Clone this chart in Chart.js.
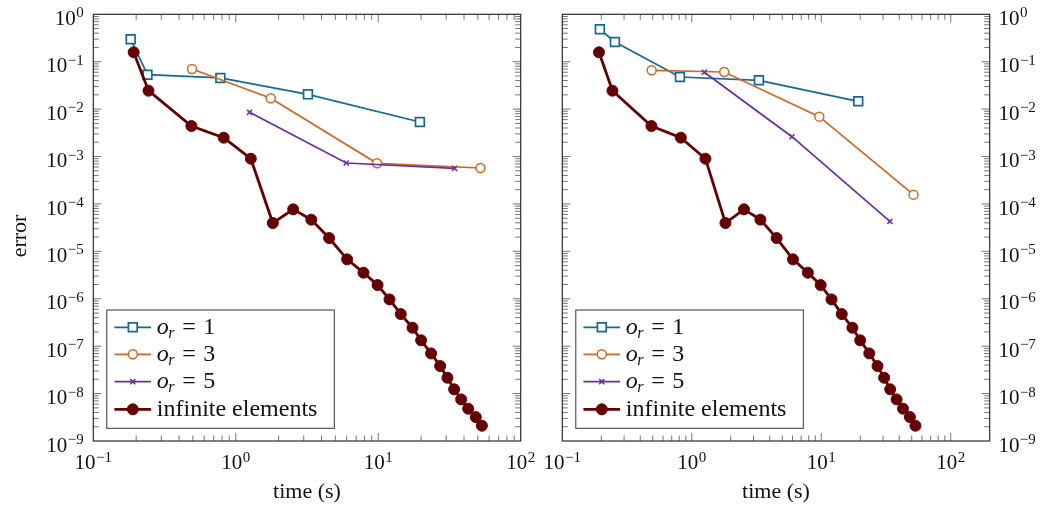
<!DOCTYPE html>
<html>
<head>
<meta charset="utf-8">
<script src="https://cdn.jsdelivr.net/npm/chart.js@4.4.0/dist/chart.umd.min.js"></script>
<style>
  html, body { margin: 0; padding: 0; background: #fff; }
  #wrap { position: relative; width: 1047px; height: 511px; overflow: hidden; }
  #wrap canvas { position: absolute; top: 0; }
  #leftChart { left: 0; }
  #rightChart { left: 525px; }
</style>
</head>
<body>
<div id="wrap">
  <canvas id="leftChart" width="560" height="511"></canvas>
  <canvas id="rightChart" width="522" height="511"></canvas>
</div>
<script>
// tick labels (powers of ten)
const xTickExps = [-1, 0, 1, 2];
const yTickExps = [0, -1, -2, -3, -4, -5, -6, -7, -8, -9];

// infinite elements - same run in both panels
const infTime = [0.192, 0.244, 0.488, 0.823, 1.275, 1.82, 2.53, 3.39, 4.52, 6.05, 7.88, 9.89,
                 12.0, 14.4, 17.4, 20.0, 23.5, 27.2, 30.6, 34.1, 38.2, 42.8, 48.4, 53.4];
const infError = [0.158, 0.0245, 0.0044, 0.0025, 0.0009, 3.96e-5, 7.7e-5, 4.66e-5, 1.91e-5,
                  6.78e-6, 3.55e-6, 1.95e-6, 9.7e-7, 4.76e-7, 2.45e-7, 1.33e-7, 7.05e-8,
                  3.81e-8, 2.16e-8, 1.23e-8, 7.55e-9, 4.8e-9, 3.2e-9, 2.1e-9];

// left panel
const leftO1Time = [0.183, 0.24, 0.78, 3.21, 19.6];
const leftO1Error = [0.297, 0.0533, 0.0454, 0.0205, 0.00535];
const leftO3Time = [0.493, 1.76, 9.8, 52.2];
const leftO3Error = [0.0703, 0.0169, 0.00072, 0.000573];
const leftO5Time = [1.25, 5.96, 34.3];
const leftO5Error = [0.00857, 0.00073, 0.000564];

// right panel
const rightO1Time = [0.195, 0.255, 0.81, 3.30, 19.3];
const rightO1Error = [0.483, 0.261, 0.0476, 0.0405, 0.0146];
const rightO3Time = [0.49, 1.78, 9.66, 51.6];
const rightO3Error = [0.0659, 0.0607, 0.00694, 0.000157];
const rightO5Time = [1.25, 5.94, 33.9];
const rightO5Error = [0.0598, 0.00262, 4.3e-5];

const orders = ['1', '3', '5'];
const infLabel = 'infinite elements';
const xTitle = 'time (s)';
const yTitle = 'error';

const BLUE = '#10699c', ORANGE = '#d8651f', PURPLE = '#6b2ca6', DARKRED = '#660000';
const SERIF = '"Liberation Serif", "DejaVu Serif", serif';

function pts(xs, ys) {
    return xs.map((t, i) => ({ x: t, y: ys[i] }));
}

function makeSets(o1t, o1e, o3t, o3e, o5t, o5e) {
    return [
        { label: 'o1', data: pts(o1t, o1e), borderColor: BLUE, borderWidth: 1.7,
          pointStyle: 'rect', pointRadius: 6.2, pointBorderWidth: 1.7,
          pointBackgroundColor: '#fff', pointBorderColor: BLUE, order: 3 },
        { label: 'o3', data: pts(o3t, o3e), borderColor: ORANGE, borderWidth: 1.7,
          pointStyle: 'circle', pointRadius: 4.5, pointBorderWidth: 1.5,
          pointBackgroundColor: '#fff', pointBorderColor: ORANGE, order: 2 },
        { label: 'o5', data: pts(o5t, o5e), borderColor: PURPLE, borderWidth: 1.7,
          pointStyle: 'crossRot', pointRadius: 3.6, pointBorderWidth: 1.5,
          pointBorderColor: PURPLE, order: 1 },
        { label: 'inf', data: pts(infTime, infError), borderColor: DARKRED, borderWidth: 2.8,
          pointStyle: 'circle', pointRadius: 5.5, pointBorderWidth: 1,
          pointBackgroundColor: DARKRED, pointBorderColor: DARKRED, order: 0 }
    ];
}

function line(ctx, x1, y1, x2, y2) {
    ctx.beginPath();
    ctx.moveTo(x1, y1);
    ctx.lineTo(x2, y2);
    ctx.stroke();
}

// "10" with a raised exponent
function drawPow(ctx, exp, x, baseline, align) {
    const expText = exp < 0 ? '\u2212' + (-exp) : String(exp);
    ctx.font = '21px ' + SERIF;
    const wBase = ctx.measureText('10').width;
    ctx.font = '15px ' + SERIF;
    const wExp = ctx.measureText(expText).width;
    const total = wBase + wExp + 0.5;
    let start = x;
    if (align === 'center') start = x - total / 2;
    if (align === 'right') start = x - total;
    ctx.textAlign = 'left';
    ctx.textBaseline = 'alphabetic';
    ctx.font = '21px ' + SERIF;
    ctx.fillText('10', start, baseline);
    ctx.font = '15px ' + SERIF;
    ctx.fillText(expText, start + wBase + 0.5, baseline - 7.6);
}

function drawMarker(ctx, ds, x, y) {
    ctx.save();
    ctx.lineWidth = ds.pointBorderWidth;
    ctx.strokeStyle = ds.pointBorderColor;
    ctx.fillStyle = ds.pointBackgroundColor || ds.pointBorderColor;
    if (Chart.helpers && Chart.helpers.drawPoint) {
        Chart.helpers.drawPoint(ctx, { pointStyle: ds.pointStyle, radius: ds.pointRadius,
            borderWidth: ds.pointBorderWidth, rotation: 0 }, x, y);
    } else {
        ctx.beginPath();
        ctx.arc(x, y, ds.pointRadius, 0, Math.PI * 2);
        ctx.fill();
        ctx.stroke();
    }
    ctx.restore();
}

const framePlugin = {
    id: 'frame',
    afterDatasetsDraw(chart, args, opts) {
        const { ctx, chartArea: a, scales: { x, y } } = chart;
        ctx.save();

        // minor / major ticks, inside, on all four sides
        ctx.strokeStyle = '#505050';
        ctx.lineWidth = 0.8;
        for (let d = -1; d <= 2; d++) {
            for (let m = 1; m <= 9; m++) {
                const v = m * Math.pow(10, d);
                if (v <= x.min * 1.001 || v >= x.max * 0.999) continue;
                const px = x.getPixelForValue(v);
                const len = m === 1 ? 8 : 5.5;
                line(ctx, px, a.bottom, px, a.bottom - len);
                line(ctx, px, a.top, px, a.top + len);
            }
        }
        for (let d = -9; d <= 0; d++) {
            for (let m = 1; m <= 9; m++) {
                const v = m * Math.pow(10, d);
                if (v <= y.min * 1.001 || v >= y.max * 0.999) continue;
                const py = y.getPixelForValue(v);
                const len = m === 1 ? 8 : 5.5;
                line(ctx, a.left, py, a.left + len, py);
                line(ctx, a.right, py, a.right - len, py);
            }
        }

        // axis box
        ctx.strokeStyle = '#2b2b2b';
        ctx.lineWidth = 1.2;
        ctx.strokeRect(a.left, a.top, a.right - a.left, a.bottom - a.top);

        // tick labels
        ctx.fillStyle = '#111';
        xTickExps.forEach(e => {
            const v = Math.pow(10, e);
            if (v > x.max * 1.001) return;
            drawPow(ctx, e, x.getPixelForValue(v), a.bottom + 28.3, 'center');
        });
        yTickExps.forEach(e => {
            const py = y.getPixelForValue(Math.pow(10, e));
            if (opts.side === 'left') drawPow(ctx, e, a.left - 9.5, py + 10.7, 'right');
            else drawPow(ctx, e, a.right + 8.7, py + 10.7, 'left');
        });

        // axis titles
        ctx.font = '22px ' + SERIF;
        ctx.textAlign = 'center';
        ctx.textBaseline = 'alphabetic';
        ctx.fillText(xTitle, (a.left + a.right) / 2, 498);
        if (opts.side === 'left') {
            ctx.save();
            ctx.translate(20, 236);
            ctx.rotate(-Math.PI / 2);
            ctx.textBaseline = 'middle';
            ctx.fillText(yTitle, 0, 0);
            ctx.restore();
        }

        // legend box
        const bw = 227.5, bh = 118.3;
        const bx = a.left + 13.5, by = a.bottom - 12.7 - bh;
        ctx.fillStyle = '#fff';
        ctx.fillRect(bx, by, bw, bh);
        ctx.strokeStyle = '#333';
        ctx.lineWidth = 1;
        ctx.strokeRect(bx, by, bw, bh);

        const rowY = [17.3, 44.3, 71.7, 99.3];
        const sets = chart.data.datasets;
        sets.forEach((ds, i) => {
            const ly = by + rowY[i];
            ctx.strokeStyle = ds.borderColor;
            ctx.lineWidth = ds.borderWidth;
            line(ctx, bx + 7.6, ly, bx + 44.3, ly);
            drawMarker(ctx, ds, bx + 26, ly);

            const tx = bx + 50, base = ly + 6.3;
            ctx.fillStyle = '#111';
            ctx.textAlign = 'left';
            ctx.textBaseline = 'alphabetic';
            if (i < orders.length) {
                ctx.font = 'italic 24px ' + SERIF;
                ctx.fillText('o', tx, base);
                const wo = ctx.measureText('o').width;
                ctx.font = 'italic 16px ' + SERIF;
                ctx.fillText('r', tx + wo - 0.5, base + 4);
                ctx.font = '24px ' + SERIF;
                ctx.fillText('=', tx + 25.5, base);
                ctx.fillText(orders[i], tx + 46.5, base);
            } else {
                ctx.font = '24px ' + SERIF;
                ctx.fillText(infLabel, tx, base);
            }
        });
        ctx.restore();
    }
};

function makeChart(canvasId, datasets, xMax, side) {
    return new Chart(document.getElementById(canvasId), {
        type: 'line',
        data: { datasets },
        options: {
            responsive: false,
            animation: false,
            layout: {
                padding: side === 'left'
                    ? { left: 0, top: 14.3, right: 39.3, bottom: 0 }
                    : { left: 37.3, top: 14.3, right: 0, bottom: 0 }
            },
            plugins: {
                legend: { display: false },
                tooltip: { enabled: false },
                frame: { side }
            },
            elements: { line: { tension: 0 } },
            scales: {
                x: {
                    type: 'logarithmic', min: 0.1, max: xMax,
                    grid: { display: false }, border: { display: false },
                    ticks: { display: false },
                    afterFit: s => { s.height = 70; }
                },
                y: {
                    type: 'logarithmic', position: side, min: 1e-9, max: 1,
                    grid: { display: false }, border: { display: false },
                    ticks: { display: false },
                    afterFit: s => { s.width = side === 'left' ? 93.3 : 57.3; }
                }
            }
        },
        plugins: [framePlugin]
    });
}

makeChart('leftChart',
    makeSets(leftO1Time, leftO1Error, leftO3Time, leftO3Error, leftO5Time, leftO5Error),
    100, 'left');
makeChart('rightChart',
    makeSets(rightO1Time, rightO1Error, rightO3Time, rightO3Error, rightO5Time, rightO5Error),
    200, 'right');
</script>
</body>
</html>
